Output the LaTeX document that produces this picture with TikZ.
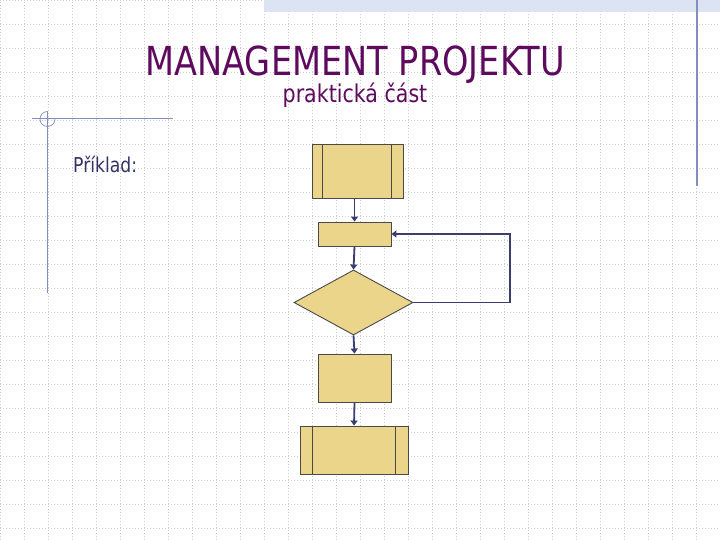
\documentclass[tikz,border=0pt]{standalone}
\usepackage{fontspec}
\setmainfont{DejaVu Sans}[FakeStretch=0.84]
\usetikzlibrary{shapes.geometric,calc,arrows.meta}
\definecolor{boxfill}{HTML}{EAD58A}
\definecolor{boxline}{HTML}{4A4A4A}
\definecolor{flowline}{HTML}{3A3D6E}
\definecolor{titlecol}{HTML}{5E0A5E}
\definecolor{textcol}{HTML}{333366}
\definecolor{rulecol}{HTML}{7F8FBF}
\definecolor{bandcol}{HTML}{DCE3F2}
\definecolor{gridcol}{HTML}{CDCDCD}
\tikzset{
  box/.style={draw=boxline, fill=boxfill, line width=0.9pt, rectangle, inner sep=0pt},
  decision/.style={draw=boxline, fill=boxfill, line width=0.9pt, diamond, inner sep=0pt},
  flow/.style={-{Triangle[length=5pt,width=7pt]}, draw=flowline, line width=1.8pt},
  loopline/.style={-{Triangle[length=5pt,width=7pt]}, draw=flowline, line width=1.3pt},
  rule/.style={draw=rulecol, line width=1pt}
}
\begin{document}
\begin{tikzpicture}[x=1pt,y=-1pt]
\useasboundingbox (0,0) rectangle (720,540);
% background
\draw[gridcol, dash pattern=on 1pt off 2pt, line width=0.7pt, step=24pt] (0,0) grid (720,540);
\fill[bandcol] (264,0) rectangle (720,12);
\draw[rule, line width=1.3pt] (697,0) -- (697,186);
\draw[rule] (32,119) -- (173,119);
\draw[rule] (47,111) -- (47,293);
\draw[rule, line width=0.7pt] (47.5,111.5) arc[start angle=90, end angle=360, radius=7.5pt];

% texts
\node[anchor=base, text=titlecol, font=\fontsize{40}{48}\selectfont] (title) at (355,76) {MANAGEMENT PROJEKTU};
\node[anchor=base, text=titlecol, font=\fontsize{24.5}{29}\selectfont] (subtitle) at (355,103) {praktická část};
\node[anchor=base west, inner sep=0pt, text=textcol, font=\fontsize{20.5}{24}\selectfont] (example) at (73,173) {Příklad:};

% flowchart
\node[box, minimum width=91, minimum height=54] (start) at (357.5,171) {};
\node[box, minimum width=73, minimum height=24] (act) at (354.5,234) {};
\node[decision, minimum width=119, minimum height=65] (test) at (353.5,302.5) {};
\node[box, minimum width=73, minimum height=48] (work) at (354.5,378) {};
\node[box, minimum width=108, minimum height=48] (stop) at (354,450) {};

\draw[boxline, line width=0.9pt] ($(start.north west)+(11,0)$) -- ($(start.south west)+(11,0)$);
\draw[boxline, line width=0.9pt] ($(start.north east)+(-12,0)$) -- ($(start.south east)+(-12,0)$);
\draw[boxline, line width=0.9pt] ($(stop.north west)+(13,0)$) -- ($(stop.south west)+(13,0)$);
\draw[boxline, line width=0.9pt] ($(stop.north east)+(-13,0)$) -- ($(stop.south east)+(-13,0)$);

\coordinate (loopcorner) at (510,302.5);
\draw[flow] (start.south -| act.north) -- (act.north);
\draw[flow] (act.south) -- (test.north);
\draw[flow] (test.south) -- (work.north);
\draw[flow] (work.south) -- (stop.north);
\draw[loopline] (test.east) -- (loopcorner) |- (act.east);
\end{tikzpicture}
\end{document}
